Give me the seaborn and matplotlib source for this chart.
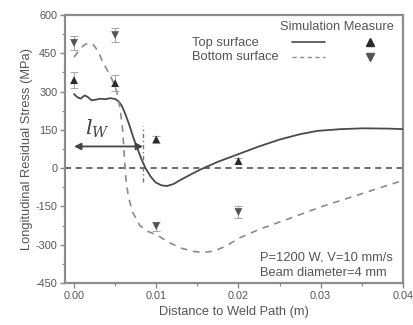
import numpy as np
import pandas as pd
import matplotlib
matplotlib.use("Agg")
import matplotlib.pyplot as plt
import seaborn as sns
from matplotlib.lines import Line2D

# ---- data ----
x_top = [0.0, 0.0004, 0.0008, 0.0013, 0.0017, 0.0021, 0.0026, 0.0032, 0.0038, 0.0044, 0.0050,
         0.0054, 0.0058, 0.0062, 0.0067, 0.0072, 0.0077, 0.0082, 0.0087, 0.0093, 0.0099,
         0.0106, 0.0113, 0.0121, 0.0129, 0.0140, 0.0154, 0.0175, 0.0200, 0.0225, 0.0250,
         0.0275, 0.0296, 0.0325, 0.0352, 0.0380, 0.0400]
y_top = [290, 278, 272, 285, 278, 266, 268, 272, 270, 274, 271,
         262, 245, 215, 172, 121, 78, 35, 0, -32, -55,
         -67, -70, -62, -47, -28, -5, 25, 55, 85, 112,
         133, 146, 153, 156, 155, 153]

x_bot = [0.0, 0.0004, 0.0008, 0.0013, 0.0018, 0.0023, 0.0029, 0.0035, 0.0041, 0.0046,
         0.0052, 0.0056, 0.0059, 0.0061, 0.0063, 0.0066, 0.0071, 0.0080, 0.0090, 0.0101,
         0.0115, 0.0130, 0.0145, 0.0157, 0.0170, 0.0185, 0.0202, 0.0225, 0.0263, 0.0300,
         0.0350, 0.0400]
y_bot = [435, 452, 470, 484, 490, 485, 460, 415, 380, 350,
         300, 235, 155, 55, -40, -110, -170, -225, -248, -262,
         -290, -313, -326, -330, -325, -305, -272, -240, -196, -152,
         -100, -48]

x_meas = [0.0, 0.005, 0.01, 0.02]
top_meas = [345, 333, 113, 28]
top_err = [30, 30, 14, 12]
bot_meas = [490, 521, -227, -172]
bot_err = [28, 28, 18, 25]

x_ticks = [0.00, 0.01, 0.02, 0.03, 0.04]
y_ticks = [-450, -300, -150, 0, 150, 300, 450, 600]
lw_x = 0.0084
lw_y = 85

# ---- style ----
sns.set_style("ticks")
plt.rcParams['font.family'] = ['Liberation Sans', 'DejaVu Sans']
plt.rcParams['axes.unicode_minus'] = False
plt.rcParams['mathtext.fontset'] = 'dejavuserif'

TXT = "#555555"
FS = 9.3
fig = plt.figure(figsize=(4.14, 3.25), dpi=100)
ax = fig.add_axes([0.157, 0.129, 0.816, 0.825])

df_top = pd.DataFrame({"x": x_top, "y": y_top})
df_bot = pd.DataFrame({"x": x_bot, "y": y_bot})

ax.axhline(0, color="#444444", lw=1.1, ls=(0, (4, 3)), zorder=1)
sns.lineplot(data=df_top, x="x", y="y", ax=ax, color="#4a4a4a", lw=1.3, sort=False,
             estimator=None, zorder=3)
sns.lineplot(data=df_bot, x="x", y="y", ax=ax, color="#8a8a8a", lw=1.2, sort=False,
             estimator=None, zorder=3, linestyle=(0, (4, 3.5)))

ax.errorbar(x_meas, top_meas, yerr=top_err, fmt="none", ecolor="#aaaaaa",
            elinewidth=0.8, capsize=3, capthick=0.8, zorder=4)
ax.errorbar(x_meas, bot_meas, yerr=bot_err, fmt="none", ecolor="#aaaaaa",
            elinewidth=0.8, capsize=3, capthick=0.8, zorder=4)
sns.scatterplot(x=x_meas, y=top_meas, ax=ax, marker="^", s=32, color="#2a2a2a",
                edgecolor="none", zorder=5)
sns.scatterplot(x=x_meas, y=bot_meas, ax=ax, marker="v", s=32, color="#555555",
                edgecolor="none", zorder=5)

# l_W annotation
ax.plot([lw_x, lw_x], [-55, 165], color="#777777", lw=1.0, ls=(0, (3, 2, 1, 2)), zorder=2)
ax.annotate("", xy=(0.0, lw_y), xytext=(lw_x, lw_y),
            arrowprops=dict(arrowstyle="<|-|>", color="#444444", lw=1.3,
                            mutation_scale=10, shrinkA=0, shrinkB=0), zorder=6)
ax.text(0.0028, 112, r"$l_W$", fontsize=15, color="#444444", ha="center", va="bottom")

ax.set_xlim(-0.0011, 0.04)
ax.set_ylim(-450, 600)
ax.set_xticks(x_ticks)
ax.set_xticklabels([f"{v:.2f}" for v in x_ticks])
ax.set_yticks(y_ticks)
ax.set_yticklabels([str(v) for v in y_ticks])
ax.set_xticks([0.005, 0.015, 0.025, 0.035], minor=True)
ax.set_yticks([-375, -225, -75, 75, 225, 375, 525], minor=True)
ax.tick_params(axis="both", which="major", labelsize=7.8, colors="#888888",
               labelcolor=TXT, length=3.5, width=1.0, direction="out", pad=2)
ax.tick_params(axis="both", which="minor", colors="#888888", length=2.5, width=0.8,
               direction="out")
for s in ax.spines.values():
    s.set_color("#8c8c8c")
    s.set_linewidth(1.6)

ax.set_xlabel("Distance to Weld Path (m)", fontsize=FS, color=TXT, labelpad=4)
ax.set_ylabel("Longitudinal Residual Stress (MPa)", fontsize=FS, color=TXT, labelpad=2)

# legend (manual, axes coords)
ax.text(0.636, 0.955, "Simulation Measure", transform=ax.transAxes, fontsize=FS,
        color=TXT, ha="left", va="center")
ax.text(0.376, 0.895, "Top surface", transform=ax.transAxes, fontsize=FS, color=TXT,
        ha="left", va="center")
ax.text(0.376, 0.843, "Bottom surface", transform=ax.transAxes, fontsize=FS, color=TXT,
        ha="left", va="center")
ax.add_line(Line2D([0.672, 0.77], [0.9, 0.9], transform=ax.transAxes,
                   color="#4a4a4a", lw=1.2))
ax.add_line(Line2D([0.672, 0.77], [0.845, 0.845], transform=ax.transAxes,
                   color="#8a8a8a", lw=1.0, ls=(0, (3, 2.5))))
ax.plot([0.903], [0.9], marker="^", ms=5.5, color="#2a2a2a", transform=ax.transAxes,
        ls="none")
ax.plot([0.903], [0.845], marker="v", ms=5.5, color="#555555", transform=ax.transAxes,
        ls="none")

ax.text(0.576, 0.097, "P=1200 W, V=10 mm/s", transform=ax.transAxes, fontsize=FS,
        color=TXT, ha="left", va="center")
ax.text(0.576, 0.037, "Beam diameter=4 mm", transform=ax.transAxes, fontsize=FS,
        color=TXT, ha="left", va="center")

fig.savefig("out.png", dpi=100)
